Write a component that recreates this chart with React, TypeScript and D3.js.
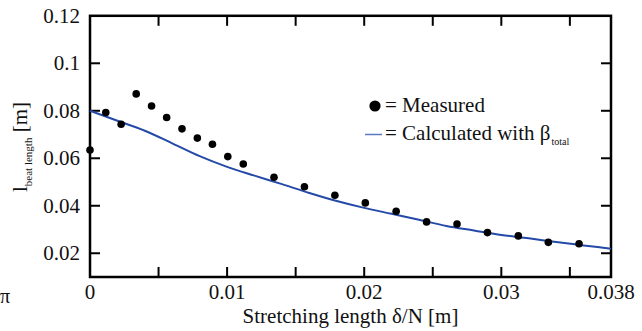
import React from "react";
import * as d3 from "d3";

// measured beat length vs stretching length
const measuredX = [
  0, 0.00115, 0.00227, 0.00337, 0.00449, 0.00559, 0.00671, 0.00783, 0.00893,
  0.01005, 0.01118, 0.01342, 0.01564, 0.01786, 0.02008, 0.02233, 0.02455,
  0.02677, 0.02899, 0.03124, 0.03343, 0.03567,
];
const measuredY = [
  0.0635, 0.0793, 0.0743, 0.0871, 0.082, 0.0772, 0.0724, 0.0685, 0.0659,
  0.0607, 0.0576, 0.052, 0.048, 0.0444, 0.0412, 0.0377, 0.0332, 0.0323,
  0.0287, 0.0273, 0.0246, 0.024,
];

// calculated with beta_total
const calcX = [
  0, 0.002, 0.004, 0.006, 0.008, 0.01, 0.012, 0.014, 0.016, 0.018, 0.02, 0.022,
  0.024, 0.026, 0.028, 0.03, 0.032, 0.034, 0.036, 0.038,
];
const calcY = [
  0.08, 0.0758, 0.0716, 0.0663, 0.0609, 0.0564, 0.0527, 0.0491, 0.0454,
  0.042, 0.0391, 0.0366, 0.0341, 0.0315, 0.0296, 0.0277, 0.0263, 0.0247,
  0.0233, 0.0219,
];

const xTickMarks = [0.005, 0.01, 0.015, 0.02, 0.025, 0.03, 0.035];
const xTickLabels = [0, 0.01, 0.02, 0.03, 0.038];
const yTickMarks = [0.02, 0.04, 0.06, 0.08, 0.1];
const yTickLabels = [0.02, 0.04, 0.06, 0.08, 0.1, 0.12];

const BLUE = "#2449a6";
const INK = "#111";
const txt = (size: number) => ({ fontSize: size });

const BeatLengthChart: React.FC<{ width?: number; height?: number }> = ({
  width = 642,
  height = 331,
}) => {
  const margin = { top: 15.8, right: 31, bottom: 54, left: 90 };
  const innerWidth = width - margin.left - margin.right;
  const innerHeight = height - margin.top - margin.bottom;

  const xScale = d3.scaleLinear().domain([0, 0.038]).range([0, innerWidth]);
  const yScale = d3.scaleLinear().domain([0.01, 0.12]).range([innerHeight, 0]);

  const line = d3
    .line<number>()
    .x((_, i) => xScale(calcX[i]))
    .y((d) => yScale(d))
    .curve(d3.curveMonotoneX);

  const tick = 10;

  return (
    <svg
      id="beatchart"
      width={width}
      height={height}
      style={{ position: "absolute", left: 0, top: 0, background: "#fff" }}
    >
      <style>{`#beatchart text, #beatchart tspan { font-family: "Liberation Serif", "Times New Roman", serif !important; }`}</style>
      <g transform={`translate(${margin.left},${margin.top})`}>
        {/* inward tick marks, bottom and top */}
        {xTickMarks.map((v) => (
          <g key={`xt${v}`} stroke="#000" strokeWidth={2}>
            <line x1={xScale(v)} x2={xScale(v)} y1={innerHeight} y2={innerHeight - tick} />
            <line x1={xScale(v)} x2={xScale(v)} y1={0} y2={tick} />
          </g>
        ))}
        {/* inward tick marks, left and right */}
        {yTickMarks.map((v) => (
          <g key={`yt${v}`} stroke="#000" strokeWidth={2}>
            <line x1={0} x2={tick} y1={yScale(v)} y2={yScale(v)} />
            <line x1={innerWidth} x2={innerWidth - tick} y1={yScale(v)} y2={yScale(v)} />
          </g>
        ))}

        {/* tick labels */}
        {xTickLabels.map((v) => (
          <text
            key={`xl${v}`}
            x={xScale(v)}
            y={innerHeight + 22}
            textAnchor="middle"
            style={txt(21)}
            fill={INK}
          >
            {String(v)}
          </text>
        ))}
        {yTickLabels.map((v) => (
          <text
            key={`yl${v}`}
            x={-10}
            y={yScale(v)}
            dy="0.34em"
            textAnchor="end"
            style={txt(21)}
            fill={INK}
          >
            {String(v)}
          </text>
        ))}

        {/* frame */}
        <rect width={innerWidth} height={innerHeight} fill="none" stroke="#000" strokeWidth={2.5} />

        {/* calculated curve */}
        <path d={line(calcY) || ""} fill="none" stroke={BLUE} strokeWidth={2} />

        {/* measured points */}
        {measuredY.map((v, i) => (
          <circle key={`p${i}`} cx={xScale(measuredX[i])} cy={yScale(v)} r={3.8} fill="#000" />
        ))}
      </g>

      {/* legend */}
      <circle cx={375} cy={106} r={5.6} fill="#000" />
      <text x={385} y={111.7} style={txt(21)} fill={INK}>
        = Measured
      </text>
      <line x1={365} x2={382} y1={134.5} y2={134.5} stroke="#5a79c0" strokeWidth={1.5} />
      <text x={385} y={140} style={txt(21)} fill={INK}>
        <tspan>= Calculated with β</tspan>
        <tspan style={txt(10)} dy={5} dx={1}>
          total
        </tspan>
      </text>

      {/* axis titles */}
      <text
        x={margin.left + innerWidth / 2}
        y={323}
        textAnchor="middle"
        style={txt(21)}
        fill={INK}
      >
        Stretching length δ/N [m]
      </text>
      <text transform="rotate(-90)" x={-147} y={26.5} textAnchor="middle" style={txt(21)} fill={INK}>
        <tspan>l</tspan>
        <tspan style={txt(11)} dy={5}>
          beat length
        </tspan>
        <tspan dy={-5}> [m]</tspan>
      </text>

      {/* stray glyph at the left edge */}
      <text x={0} y={303} style={txt(20)} fill={INK}>
        π
      </text>
    </svg>
  );
};

export default function App() {
  return <BeatLengthChart />;
}
